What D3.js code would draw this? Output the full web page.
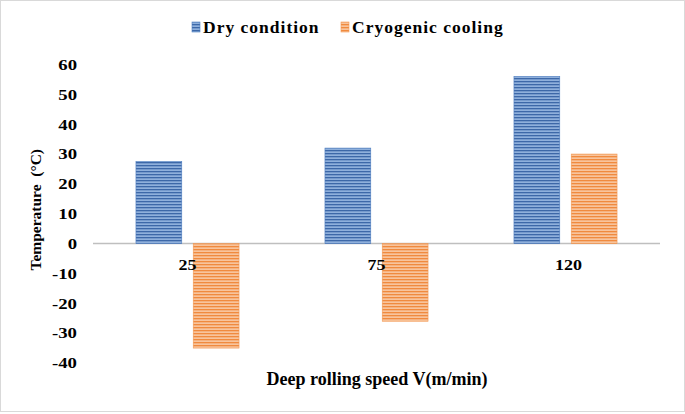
<!DOCTYPE html>
<html><head><meta charset="utf-8">
<script src="https://cdn.jsdelivr.net/npm/d3@7/dist/d3.min.js"></script>
<style>body{margin:0;background:#fff}svg{display:block}text{font-family:"Liberation Serif","Times New Roman",serif;font-weight:bold;fill:#000}</style>
</head><body>
<script>
const categories = ["25", "75", "120"];
const seriesNames = ["Dry condition", "Cryogenic cooling"];
const dryValues = [27.5, 32, 56];
const cryoValues = [-35, -26, 30];
const yTicks = [60, 50, 40, 30, 20, 10, 0, -10, -20, -30, -40];

const W = 685, H = 414;
const svg = d3.select("body").append("svg").attr("width", W).attr("height", H);
const defs = svg.append("defs");
function stripes(id, bg, line) {
  const p = defs.append("pattern").attr("id", id).attr("patternUnits", "userSpaceOnUse")
    .attr("width", 6).attr("height", 3);
  p.append("rect").attr("width", 6).attr("height", 3).attr("fill", bg);
  p.append("rect").attr("y", 0).attr("width", 6).attr("height", 1.3).attr("fill", line);
}
stripes("pBlue", "#8fb0dc", "#3d68a8");
stripes("pOrange", "#f8c49c", "#f08a3e");
const fills = ["url(#pBlue)", "url(#pOrange)"];
const strokes = ["#4f7fc0", "#f39a55"];

svg.append("rect").attr("x", 0.5).attr("y", 0.5).attr("width", W - 1).attr("height", H - 3)
  .attr("fill", "#fff").attr("stroke", "#d9d9d9");

const x0 = d3.scaleBand().domain(categories).range([93, 660]);
const x1 = d3.scaleBand().domain(seriesNames).range([0, x0.bandwidth()]).paddingInner(0.2).paddingOuter(0.75);
const y = d3.scaleLinear().domain([-40, 60]).range([363, 64.5]);

// zero line
svg.append("line").attr("x1", 93).attr("x2", 660).attr("y1", y(0)).attr("y2", y(0))
  .attr("stroke", "#bfbfbf").attr("stroke-width", 1.5);

const data = categories.map((c, i) => ({ c, vals: [dryValues[i], cryoValues[i]] }));
const g = svg.append("g");
data.forEach(d => {
  d.vals.forEach((v, j) => {
    g.append("rect")
      .attr("x", x0(d.c) + x1(seriesNames[j]))
      .attr("width", x1.bandwidth())
      .attr("y", Math.min(y(v), y(0)))
      .attr("height", Math.abs(y(v) - y(0)))
      .attr("fill", fills[j]).attr("stroke", strokes[j]).attr("stroke-width", 0.6);
  });
});

// y axis tick labels
const yAxis = d3.axisLeft(y).tickValues(yTicks).tickSize(0).tickPadding(0).tickFormat(d => String(d));
const ya = svg.append("g").attr("transform", "translate(77,0)").call(yAxis);
ya.select(".domain").remove();
ya.selectAll("text").attr("font-size", 15).attr("transform", "scale(1.25,1)")
  .style("font-family", "Liberation Serif").style("font-weight", "bold").attr("fill", "#000");

// category labels
categories.forEach((c, i) => {
  const cx = x0(c) + x0.bandwidth() / 2 + (i === 2 ? 3 : 0);
  svg.append("text").attr("transform", `translate(${cx},270) scale(1.2,1)`)
    .attr("text-anchor", "middle").attr("font-size", 15).text(c);
});

// axis titles
svg.append("text").attr("transform", `translate(41,${(y(60)+y(-40))/2 - 4}) rotate(-90)`)
  .attr("text-anchor", "middle").attr("font-size", 15.5).attr("xml:space", "preserve").text("Temperature  (°C)");
svg.append("text").attr("x", 377).attr("y", 385).attr("text-anchor", "middle")
  .attr("font-size", 18).text("Deep rolling speed V(m/min)");

// legend
const legend = [{ name: seriesNames[0], x: 192 }, { name: seriesNames[1], x: 341 }];
legend.forEach((l, j) => {
  svg.append("rect").attr("x", l.x).attr("y", 22).attr("width", 8).attr("height", 10)
    .attr("fill", fills[j]).attr("stroke", strokes[j]).attr("stroke-width", 0.6);
  svg.append("text").attr("x", l.x + 11).attr("y", 33).attr("font-size", 17.5).attr("letter-spacing", 1).text(l.name);
});
</script>
</body></html>
